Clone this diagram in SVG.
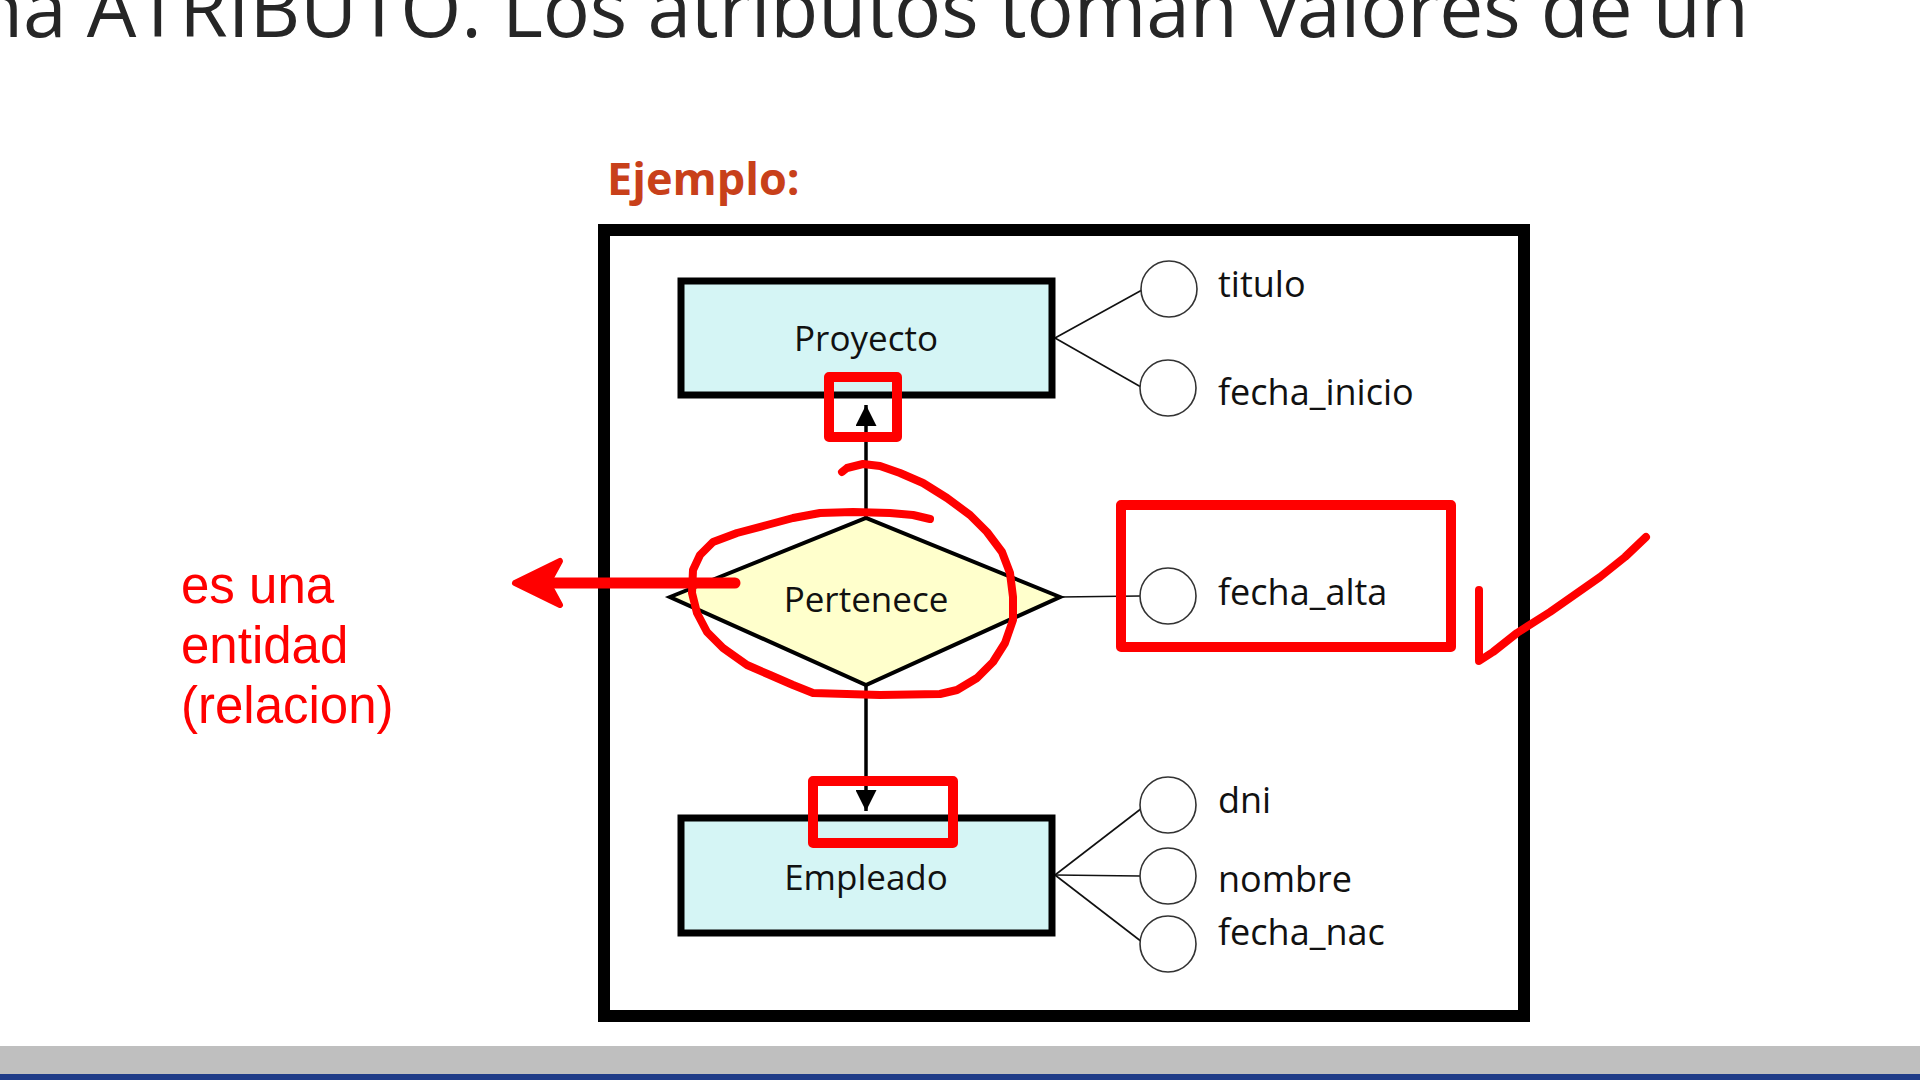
<svg xmlns="http://www.w3.org/2000/svg" width="1920" height="1080" viewBox="0 0 1920 1080">
  <style>
    .ent { fill: #D5F5F5; stroke: #000; stroke-width: 7; }
    .rel { fill: #FFFFCC; stroke: #000; stroke-width: 4; stroke-linejoin: miter; }
    .lbl { font-family: "Open Sans", "Liberation Sans", sans-serif; font-size: 35px; fill: #111; }
    .alb { font-family: "Open Sans", "Liberation Sans", sans-serif; font-size: 36px; fill: #111; }
    .attr { fill: #fff; stroke: #333; stroke-width: 1.6; }
    .conn { stroke: #111; stroke-width: 1.6; fill: none; }
    .link { stroke: #000; stroke-width: 3.5; fill: none; }
    .red { stroke: #FF0000; fill: none; stroke-linecap: round; stroke-linejoin: round; }
    .note { font-family: "Liberation Sans", Arial, sans-serif; font-size: 51px; fill: #FF0000; }
  </style>
  <defs>
    <marker id="arr" viewBox="0 0 10 10" refX="10" refY="5" markerWidth="6" markerHeight="6" orient="auto" markerUnits="strokeWidth">
      <path d="M0,0 L10,5 L0,10 z" fill="#000"/>
    </marker>
  </defs>
  <rect width="1920" height="1080" fill="#fff"/>

  <text x="-25" y="37" font-family="'Open Sans', 'Liberation Sans', sans-serif" font-size="78.5" fill="#262626" textLength="1774" lengthAdjust="spacing">na ATRIBUTO. Los atributos toman valores de un</text>

  <text x="607" y="195" font-family="'Open Sans', 'Liberation Sans', sans-serif" font-size="45" font-weight="bold" fill="#C8401A">Ejemplo:</text>

  <rect id="frame" x="604" y="230" width="920" height="786" fill="#fff" stroke="#000" stroke-width="12"/>

  <g id="connectors">
    <line class="link" x1="866" y1="518" x2="866" y2="405" marker-end="url(#arr)"/>
    <line class="link" x1="866" y1="685" x2="866" y2="811" marker-end="url(#arr)"/>
    <line class="conn" x1="1055" y1="338" x2="1142" y2="290"/>
    <line class="conn" x1="1055" y1="338" x2="1141" y2="387"/>
    <line class="conn" x1="1060" y1="597" x2="1140" y2="596"/>
    <line class="conn" x1="1055" y1="875" x2="1142" y2="808"/>
    <line class="conn" x1="1055" y1="875" x2="1140" y2="876"/>
    <line class="conn" x1="1055" y1="875" x2="1142" y2="942"/>
  </g>

  <g id="proyecto">
    <rect class="ent" x="681" y="281" width="371" height="114"/>
    <text class="lbl" x="866" y="351" text-anchor="middle">Proyecto</text>
  </g>
  <g id="pertenece">
    <polygon class="rel" points="670,597 866,518 1060,597 866,685"/>
    <text class="lbl" x="866" y="612" text-anchor="middle">Pertenece</text>
  </g>
  <g id="empleado">
    <rect class="ent" x="681" y="818" width="371" height="115"/>
    <text class="lbl" x="866" y="890" text-anchor="middle">Empleado</text>
  </g>

  <g id="attr-titulo">
    <circle class="attr" cx="1169" cy="289" r="28"/>
    <text class="alb" x="1218" y="297">titulo</text>
  </g>
  <g id="attr-fecha_inicio">
    <circle class="attr" cx="1168" cy="388" r="28"/>
    <text class="alb" x="1218" y="405">fecha_inicio</text>
  </g>
  <g id="attr-fecha_alta">
    <circle class="attr" cx="1168" cy="596" r="28"/>
    <text class="alb" x="1218" y="605">fecha_alta</text>
  </g>
  <g id="attr-dni">
    <circle class="attr" cx="1168" cy="805" r="28"/>
    <text class="alb" x="1218" y="813">dni</text>
  </g>
  <g id="attr-nombre">
    <circle class="attr" cx="1168" cy="876" r="28"/>
    <text class="alb" x="1218" y="892">nombre</text>
  </g>
  <g id="attr-fecha_nac">
    <circle class="attr" cx="1168" cy="944" r="28"/>
    <text class="alb" x="1218" y="945">fecha_nac</text>
  </g>

  <g id="annotations">
    <rect class="red" x="829" y="377" width="68" height="60" stroke-width="10" stroke-linecap="butt" stroke-linejoin="miter"/>
    <rect class="red" x="813" y="781" width="140" height="62" stroke-width="10" stroke-linecap="butt" stroke-linejoin="miter"/>
    <rect class="red" x="1121" y="505" width="330" height="142" stroke-width="10" stroke-linecap="butt" stroke-linejoin="miter"/>
    <polyline class="red" stroke-width="8" points="842,472 847,468 863,464 880,466 900,473 923,483 947,498 970,515 987,532 1002,552 1010,573 1013,597 1013,620 1005,643 993,662 977,678 957,690 940,694 880,695 813,693 793,685 770,675 747,665 723,648 707,632 697,613 692,593 693,570 700,555 713,542 737,533 767,525 793,518 820,513 853,512 890,513 913,515 930,519"/>
    <line class="red" x1="735" y1="583" x2="530" y2="583" stroke-width="11" stroke-linecap="butt"/>
    <polygon points="515,583 560,561 548,583 560,605" fill="#FF0000" stroke="#FF0000" stroke-width="6" stroke-linejoin="round"/>
    <polyline class="red" stroke-width="8" points="1479,590 1479,661 1493,652 1517,633 1550,612 1600,577 1625,557 1646,537"/>
    <text class="note" x="181" y="603">es una</text>
    <text class="note" x="181" y="663">entidad</text>
    <text class="note" x="181" y="723">(relacion)</text>
  </g>

  <rect x="0" y="1046" width="1920" height="28" fill="#BFBFBF"/>
  <rect x="0" y="1074" width="1920" height="6" fill="#1F3C88"/>
</svg>
